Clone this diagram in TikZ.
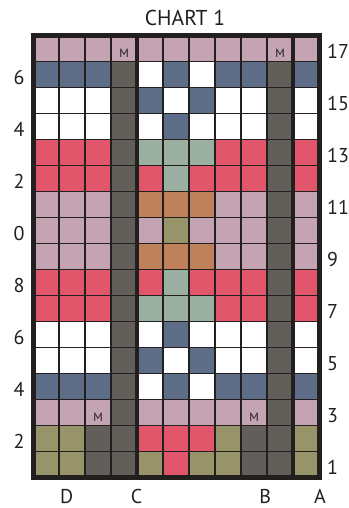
\documentclass[tikz,border=0pt]{standalone}
\usepackage{fontspec}
\setmainfont{PT Sans}
\definecolor{mauve}{RGB}{196,163,178}
\definecolor{slate}{RGB}{94,110,136}
\definecolor{coral}{RGB}{226,86,108}
\definecolor{sage}{RGB}{154,177,162}
\definecolor{clay}{RGB}{191,129,89}
\definecolor{moss}{RGB}{150,148,104}
\definecolor{ash}{RGB}{98,95,91}
\definecolor{ink}{RGB}{35,31,30}

\begin{document}
\begin{tikzpicture}[x=26pt,y=26pt,
    num/.style={font=\fontsize{20}{22}\selectfont,text=ink,inner sep=0pt},
    mk/.style={font=\fontsize{12}{13}\selectfont,text=ink,inner sep=0pt,anchor=base}]
  \useasboundingbox (-1.277,-1.173) rectangle (12.108,18.365);
  \clip (-0.78,-1.173) rectangle (12.108,18.365);
  % cells, row 1 at the bottom
  \foreach \cells [count=\j] in {
      {moss,moss,ash,ash,moss,coral,moss,moss,ash,ash,moss},
      {moss,moss,ash,ash,coral,coral,coral,moss,ash,ash,moss},
      {mauve,mauve,mauve,ash,mauve,mauve,mauve,mauve,mauve,ash,mauve},
      {slate,slate,slate,ash,white,slate,white,slate,slate,ash,slate},
      {white,white,white,ash,slate,white,slate,white,white,ash,white},
      {white,white,white,ash,white,slate,white,white,white,ash,white},
      {coral,coral,coral,ash,sage,sage,sage,coral,coral,ash,coral},
      {coral,coral,coral,ash,coral,sage,coral,coral,coral,ash,coral},
      {mauve,mauve,mauve,ash,clay,clay,clay,mauve,mauve,ash,mauve},
      {mauve,mauve,mauve,ash,mauve,moss,mauve,mauve,mauve,ash,mauve},
      {mauve,mauve,mauve,ash,clay,clay,clay,mauve,mauve,ash,mauve},
      {coral,coral,coral,ash,coral,sage,coral,coral,coral,ash,coral},
      {coral,coral,coral,ash,sage,sage,sage,coral,coral,ash,coral},
      {white,white,white,ash,white,slate,white,white,white,ash,white},
      {white,white,white,ash,slate,white,slate,white,white,ash,white},
      {slate,slate,slate,ash,white,slate,white,slate,slate,ash,slate},
      {mauve,mauve,mauve,mauve,mauve,mauve,mauve,mauve,mauve,mauve,mauve}}
    \foreach \c [count=\i] in \cells
      \fill[\c] (\i-1,\j-1) rectangle ++(1,1);
  \draw[ink,line width=1.7pt,step={(1,1)}] (0,0) grid (11,17);
  \draw[ink,line width=4.5pt] (4,0) -- (4,17) (10,0) -- (10,17);
  \draw[ink,line width=5pt] (0,0) rectangle (11,17);
  % markers
  \node[mk] (m1) at (3.5,16.16) {M};
  \node[mk] (m2) at (9.5,16.16) {M};
  \node[mk] (m3) at (2.5,2.16) {M};
  \node[mk] (m4) at (8.5,2.16) {M};
  % row numbers
  \foreach \n in {1,3,...,17}
    \node[num,anchor=base west] (r\n) at (11.3,\n-0.88) {\n};
  \foreach \n in {2,4,...,16}
    \node[num,anchor=base east] (l\n) at (-0.33,\n-0.88) {\n};
  % columns and title
  \node[num,anchor=base] (d) at (1.29,-1.0) {D};
  \node[num,anchor=base] (c) at (3.98,-1.0) {C};
  \node[num,anchor=base] (b) at (8.92,-1.0) {B};
  \node[num,anchor=base] (a) at (11.03,-1.0) {A};
  \node[num,anchor=base,font=\fontsize{21.5}{23}\selectfont] (t) at (5.84,17.40) {CHART 1};
\end{tikzpicture}
\end{document}
